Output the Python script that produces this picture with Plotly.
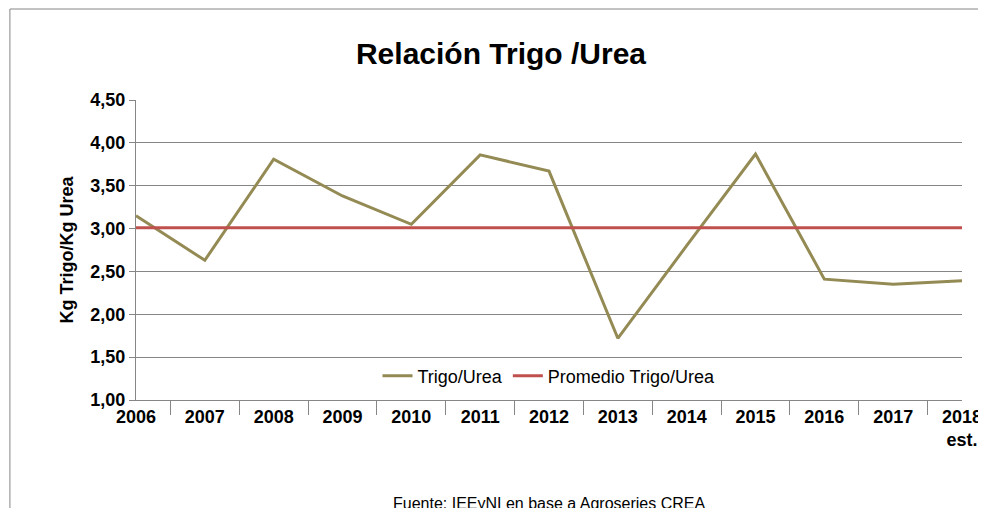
import plotly.graph_objects as go

years = ["2006","2007","2008","2009","2010","2011","2012","2013","2014","2015","2016","2017","2018<br>est."]
trigo_urea = [3.15,2.63,3.81,3.38,3.05,3.86,3.67,1.72,2.80,3.87,2.41,2.35,2.39]
promedio = [3.01]*13

F = "Liberation Sans"
fig = go.Figure()
fig.add_trace(go.Scatter(x=years, y=trigo_urea, mode="lines", name="Trigo/Urea",
                         line=dict(color="#948A54", width=3)))
fig.add_trace(go.Scatter(x=years, y=promedio, mode="lines", name="Promedio Trigo/Urea",
                         line=dict(color="#C0504D", width=3)))
fig.update_layout(
    width=986, height=508, plot_bgcolor="white", paper_bgcolor="white",
    margin=dict(l=128, r=26, t=92, b=116),
    title=dict(text="<b>Relación Trigo /Urea</b>", x=0.5, xanchor="center", y=0.91, yanchor="middle",
               font=dict(family=F, size=30, color="black")),
    font=dict(family=F, color="black"),
    separators=",.",
    legend=dict(orientation="h", x=0.5, xanchor="center", y=0.08, yanchor="middle",
                bgcolor="rgba(255,255,255,0)", font=dict(size=18, family=F)),
    xaxis=dict(tickfont=dict(size=18), tickprefix="<b>", ticksuffix="</b>", showgrid=False,
               showline=True, linecolor="#868686", ticks="outside", tickson="boundaries",
               ticklen=14, tickcolor="#868686"),
    yaxis=dict(range=[1,4.5], dtick=0.5, tickformat=".2f",
               tickfont=dict(size=18), tickprefix="<b>", ticksuffix="</b>",
               gridcolor="#868686", showline=True, linecolor="#868686", ticks="outside",
               ticklen=6, tickcolor="#868686",
               title=dict(text="<b>Kg Trigo/Kg Urea</b>", font=dict(size=18), standoff=12)),
    annotations=[dict(text="Fuente: IEEyNI en base a Agroseries CREA", x=0.5, xref="paper",
                      y=-0.345, yref="paper", yanchor="middle", showarrow=False,
                      font=dict(size=16, family=F))],
    shapes=[dict(type="rect", xref="paper", yref="paper",
                 x0=-127/832, x1=1+25/832, y0=-115/300, y1=1+91/300,
                 line=dict(color="#868686", width=1))],
)
fig.write_html("out.html")
